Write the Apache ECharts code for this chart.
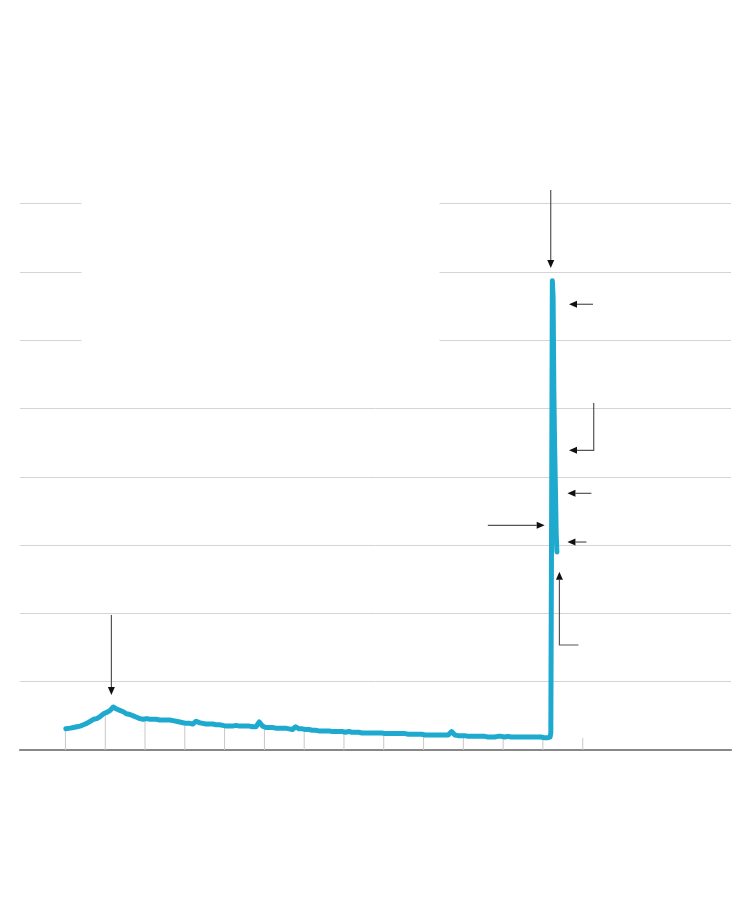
<!DOCTYPE html>
<html><head><meta charset="utf-8">
<script src="https://cdn.jsdelivr.net/npm/echarts@6/dist/echarts.min.js"></script>
<style>html,body{margin:0;padding:0;background:#fff}#c{width:750px;height:912px}</style>
</head><body><div id="c"></div>
<script>
// Weekly jobless claims (millions)
const firstYear = 2008;
const monthlyClaims = [
  [.31,.32,.33,.34,.35,.37,.39,.42,.45,.46,.49,.53], // 2008
  [.55,.58,.63,.60,.58,.56,.53,.52,.50,.48,.46,.45], // 2009
  [.46,.45,.45,.45,.44,.44,.44,.44,.43,.42,.41,.40], // 2010
  [.39,.39,.38,.42,.40,.39,.38,.38,.38,.37,.37,.36], // 2011
  [.35,.35,.35,.36,.35,.35,.35,.35,.34,.34,.41,.35], // 2012
  [.33,.33,.33,.32,.32,.32,.32,.31,.30,.34,.31,.31], // 2013
  [.30,.30,.29,.29,.28,.28,.28,.28,.27,.27,.27,.27], // 2014
  [.26,.27,.26,.26,.26,.25,.25,.25,.25,.25,.25,.25], // 2015
  [.24,.24,.24,.24,.24,.24,.24,.23,.23,.23,.23,.23], // 2016
  [.22,.22,.22,.22,.22,.22,.22,.22,.27,.22,.21,.21], // 2017
  [.21,.20,.20,.20,.20,.20,.20,.19,.19,.19,.20,.20], // 2018
  [.19,.20,.19,.19,.19,.19,.19,.19,.19,.19,.19,.19], // 2019
  [.18,.18]                                          // 2020
];
const weekDates2020 = ['2020-03-07','2020-03-14','2020-03-21','2020-03-28','2020-04-04','2020-04-11','2020-04-18','2020-04-25','2020-05-02','2020-05-09'];
const weekClaims2020 = [0.19, 0.25, 3.31, 6.87, 6.62, 5.24, 4.44, 3.85, 3.18, 2.90];

// Year ticks drawn from the baseline up to the line
const tickYears = [2008,2009,2010,2011,2012,2013,2014,2015,2016,2017,2018,2019,2020,2021];
const tickHeights = [.31,.53,.46,.39,.35,.33,.30,.26,.24,.22,.21,.19,.18,.18];

// y-axis gridlines (millions)
const yMax = 8, yStep = 1;

// Annotation arrows, in data units [decimal year, millions]; head at the last point
const arrows = [
  [[2020.197, 8.199],[2020.197, 7.057]],
  [[2009.154, 1.977],[2009.154, 0.805]],
  [[2021.258, 6.526],[2020.656, 6.526]],
  [[2021.276, 5.081],[2021.276, 4.388],[2020.656, 4.388]],
  [[2021.218, 3.758],[2020.616, 3.758]],
  [[2021.093, 3.045],[2020.616, 3.045]],
  [[2020.892, 1.537],[2020.415, 1.537],[2020.415, 2.611]],
  [[2018.616, 3.290],[2020.046, 3.290]]
];

function dy(y){ const Y=Math.floor(y); const s=Date.UTC(Y,0,1), e=Date.UTC(Y+1,0,1); return s+(y-Y)*(e-s); }
function pad(n){return (n<10?'0':'')+n;}

const lineData = [];
monthlyClaims.forEach((vals, i) => {
  vals.forEach((v, m) => {
    const day = (i===0 && m===0) ? '05' : '15';
    lineData.push([(firstYear+i)+'-'+pad(m+1)+'-'+day, v]);
  });
});
weekDates2020.forEach((d,i)=>lineData.push([d, weekClaims2020[i]]));
const tickData = tickYears.map((y,i)=>[y+'-01-01', tickHeights[i]]);

const chart = echarts.init(document.getElementById('c'), null, {renderer:'canvas'});
chart.setOption({
  animation:false,
  backgroundColor:'#fff',
  grid:{left:20, right:19, top:203.6, bottom:162, containLabel:false},
  xAxis:{type:'time', min:dy(2006.8706), max:dy(2024.7143),
    axisLine:{show:true, lineStyle:{color:'#888', width:2.2}}, offset:1.5,
    axisTick:{show:false}, axisLabel:{show:false}, splitLine:{show:false}},
  yAxis:{type:'value', min:0, max:yMax, interval:yStep,
    axisLine:{show:false}, axisTick:{show:false}, axisLabel:{show:false},
    splitLine:{show:true, lineStyle:{color:'#d4d4d4', width:1}}},
  series:[
    {type:'bar', data:tickData, barWidth:1, itemStyle:{color:'#c8c8c8'}, z:1, silent:true},
    {type:'line', data:lineData, showSymbol:false, symbol:'none', clip:false,
     lineStyle:{color:'#1ea9cf', width:5, cap:'round', join:'round'}, z:3}
  ]
});

// white panel where the original text block sat over the upper gridlines
const g = [{type:'rect', shape:{x:81.5, y:196, width:358, height:150}, style:{fill:'#fff'}, z:10}];
arrows.forEach(a => {
  const p = a.map(d => chart.convertToPixel({gridIndex:0}, [dy(d[0]), d[1]]));
  const tip = p[p.length-1], prev = p[p.length-2];
  const dx = tip[0]-prev[0], dyy = tip[1]-prev[1], L = Math.hypot(dx,dyy);
  const ux = dx/L, uy = dyy/L, hl = 8, hw = 3.5;
  const base = [tip[0]-ux*hl, tip[1]-uy*hl];
  const pts = p.slice(0,-1).concat([base]);
  g.push({type:'polyline', shape:{points:pts}, style:{stroke:'#555', lineWidth:1.2, fill:null}, z:20});
  g.push({type:'polygon', shape:{points:[tip, [base[0]-uy*hw, base[1]+ux*hw], [base[0]+uy*hw, base[1]-ux*hw]]},
    style:{fill:'#111'}, z:21});
});
chart.setOption({graphic:g});
</script></body></html>
